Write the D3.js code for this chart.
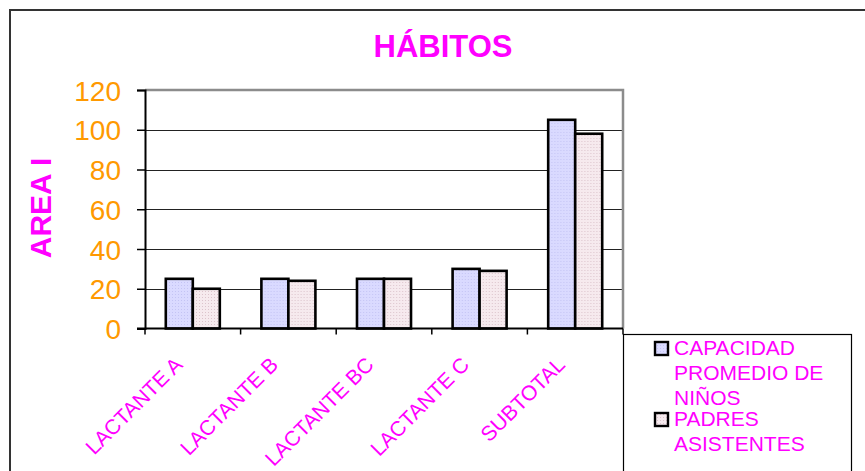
<!DOCTYPE html>
<html>
<head>
<meta charset="utf-8">
<script src="https://cdn.jsdelivr.net/npm/d3@7"></script>
<style>
  body { margin: 0; background: #fff; }
  text { font-family: "Liberation Sans", Arial, sans-serif; }
</style>
</head>
<body>
<svg width="865" height="471"></svg>
<script>
// data
var categories = ["LACTANTE A", "LACTANTE B", "LACTANTE BC", "LACTANTE C", "SUBTOTAL"];
var seriesNames = ["CAPACIDAD PROMEDIO DE NIÑOS", "PADRES ASISTENTES"];
var capacidad = [25, 25, 25, 30, 105];
var padres = [20, 24, 25, 29, 98];
var yTicks = [0, 20, 40, 60, 80, 100, 120];
var legendLines = [["CAPACIDAD", "PROMEDIO DE", "NIÑOS"], ["PADRES", "ASISTENTES"]];

var magenta = "#ff00ff",
    orange = "#ff9900";

var svg = d3.select("svg");

// little dotted fills, like the old office patterns
var defs = svg.append("defs");
function dots(id, base, dot) {
    var p = defs.append("pattern").attr("id", id)
        .attr("width", 3).attr("height", 3).attr("patternUnits", "userSpaceOnUse");
    p.append("rect").attr("width", 3).attr("height", 3).attr("fill", base);
    p.append("rect").attr("width", 1).attr("height", 1).attr("fill", dot);
}
dots("fillA", "#dadaff", "#c4c4f4");
dots("fillB", "#f6eaee", "#dcc4cc");
var fills = ["url(#fillA)", "url(#fillB)"];

// outer frame (runs off the right and bottom edges)
svg.append("rect")
    .attr("x", 10).attr("y", 10).attr("width", 900).attr("height", 500)
    .attr("fill", "none").attr("stroke", "#333").attr("stroke-width", 2);

var plot = { left: 145, top: 90, right: 623, bottom: 328.5 };

var x0 = d3.scaleBand().domain(categories).range([plot.left, plot.right]);
var x1 = d3.scaleBand().domain([0, 1]).range([0, x0.bandwidth()]).paddingOuter(0.77);
var y = d3.scaleLinear().domain([0, 120]).range([plot.bottom, plot.top]);

// gridlines
svg.append("g").selectAll("line")
    .data(yTicks.filter(function(d) { return d > 0 && d < 120; }))
    .enter().append("line")
    .attr("x1", plot.left).attr("x2", plot.right)
    .attr("y1", function(d) { return Math.round(y(d)) + 0.5; })
    .attr("y2", function(d) { return Math.round(y(d)) + 0.5; })
    .attr("stroke", "#222").attr("stroke-width", 1);

// plot area border, top and right in gray
svg.append("path")
    .attr("d", "M" + plot.left + "," + y(120) + "H" + plot.right + "V" + plot.bottom)
    .attr("fill", "none").attr("stroke", "#8c8c8c").attr("stroke-width", 2.5);

// bars
var groups = svg.append("g").selectAll("g")
    .data(categories)
    .enter().append("g")
    .attr("transform", function(d) { return "translate(" + x0(d) + ",0)"; });

groups.selectAll("rect")
    .data(function(d, i) { return [capacidad[i], padres[i]]; })
    .enter().append("rect")
    .attr("x", function(d, j) { return x1(j); })
    .attr("y", function(d) { return y(d); })
    .attr("width", x1.bandwidth())
    .attr("height", function(d) { return y(0) - y(d); })
    .attr("fill", function(d, j) { return fills[j]; })
    .attr("stroke", "#000").attr("stroke-width", 2.6);

// y axis
var yAxis = svg.append("g")
    .attr("transform", "translate(" + plot.left + ",0)")
    .call(d3.axisLeft(y).tickValues(yTicks).tickSize(8).tickPadding(16));
yAxis.select(".domain").attr("stroke", "#000").attr("stroke-width", 2);
yAxis.selectAll(".tick line").attr("stroke", "#000").attr("stroke-width", 1.5);
yAxis.selectAll(".tick text")
    .attr("fill", orange).attr("font-size", 28)
    .attr("font-family", "Liberation Sans, Arial, sans-serif")
    .attr("dy", "0.36em");

// x axis: ticks at category boundaries
var xAxis = svg.append("g").attr("transform", "translate(0," + plot.bottom + ")");
xAxis.append("line")
    .attr("x1", plot.left - 8).attr("x2", plot.right)
    .attr("stroke", "#000").attr("stroke-width", 2);
xAxis.selectAll("line.tk")
    .data(categories.concat(["end"]))
    .enter().append("line").attr("class", "tk")
    .attr("x1", function(d, i) { return plot.left + i * x0.step(); })
    .attr("x2", function(d, i) { return plot.left + i * x0.step(); })
    .attr("y1", 0).attr("y2", 6)
    .attr("stroke", "#000").attr("stroke-width", 1.5);

svg.append("g").selectAll("text")
    .data(categories)
    .enter().append("text")
    .attr("transform", function(d) {
        return "translate(" + (x0(d) + x0.bandwidth() / 2 - 9) + ",366) rotate(-45)";
    })
    .attr("text-anchor", "end")
    .attr("fill", magenta).attr("font-size", 21)
    .text(function(d) { return d; });

// titles
svg.append("text")
    .attr("x", 443).attr("y", 57)
    .attr("text-anchor", "middle")
    .attr("fill", magenta).attr("font-size", 31).attr("font-weight", "bold")
    .text("HÁBITOS");

svg.append("text")
    .attr("transform", "translate(51,208) rotate(-90)")
    .attr("text-anchor", "middle")
    .attr("fill", magenta).attr("font-size", 30).attr("font-weight", "bold")
    .text("AREA I");

// legend
var legend = svg.append("g");
legend.append("rect")
    .attr("x", 623.5).attr("y", 334.5).attr("width", 228).attr("height", 200)
    .attr("fill", "#fff").attr("stroke", "#000").attr("stroke-width", 1.2);

var legendTop = [355, 426];
legendLines.forEach(function(lines, i) {
    legend.append("rect")
        .attr("x", 655).attr("y", legendTop[i] - 13).attr("width", 13).attr("height", 13)
        .attr("fill", fills[i]).attr("stroke", "#000").attr("stroke-width", 2.4);
    legend.append("text")
        .attr("x", 674).attr("y", legendTop[i])
        .attr("fill", magenta).attr("font-size", 21)
        .selectAll("tspan")
        .data(lines)
        .enter().append("tspan")
        .attr("x", 674)
        .attr("dy", function(d, k) { return k === 0 ? 0 : 25; })
        .text(function(d) { return d; });
});
</script>
</body>
</html>
